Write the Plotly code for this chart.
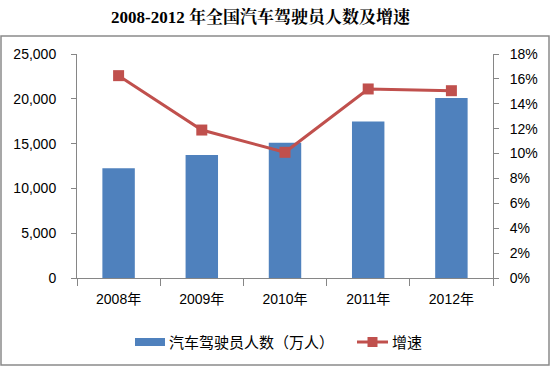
import plotly.graph_objects as go

years = ["2008年", "2009年", "2010年", "2011年", "2012年"]
drivers = [12240, 13730, 15100, 17480, 20090]
growth = [0.1626, 0.1189, 0.1010, 0.1519, 0.1505]

left_ticks = [0, 5000, 10000, 15000, 20000, 25000]
right_ticks = [0, 0.02, 0.04, 0.06, 0.08, 0.10, 0.12, 0.14, 0.16, 0.18]

bar_name = "汽车驾驶员人数（万人）"
line_name = "增速"
title = "2008-2012 年全国汽车驾驶员人数及增速"

FONT = "Liberation Sans, Noto Sans CJK SC, sans-serif"
AXC = "#868686"
BLUE = "#4F81BD"
RED = "#C0504D"

fig = go.Figure()
fig.add_trace(go.Bar(
    x=years, y=drivers, name=bar_name,
    marker=dict(color=BLUE, line=dict(width=0)),
    width=0.39, showlegend=False,
))
fig.add_trace(go.Scatter(
    x=years, y=growth, name=line_name, yaxis="y2",
    mode="lines+markers",
    line=dict(color=RED, width=3),
    marker=dict(symbol="square", size=11, color=RED),
    showlegend=False,
))

# plot area pixels: x 77..493, y 54..278
L, R, T, B = 77, 493, 54, 278
W, H = 551, 368
pw, ph = R - L, B - T
def px(x):
    return (x - L) / pw
def py(y):
    return (B - y) / ph

LEGY = 342
shapes = [
    dict(type="rect", xref="paper", yref="paper",
         x0=px(1), x1=px(549), y0=py(365), y1=py(36),
         line=dict(color="#8A8A8A", width=1.5), fillcolor="rgba(0,0,0,0)",
         layer="below"),
    # legend: bar swatch
    dict(type="rect", xref="paper", yref="paper",
         x0=px(135), x1=px(165), y0=py(LEGY + 4), y1=py(LEGY - 4),
         line=dict(width=0), fillcolor=BLUE),
    # legend: line swatch
    dict(type="line", xref="paper", yref="paper",
         x0=px(357), x1=px(388), y0=py(LEGY), y1=py(LEGY),
         line=dict(color=RED, width=3)),
    dict(type="rect", xref="paper", yref="paper",
         x0=px(367.5), x1=px(377.5), y0=py(LEGY + 5), y1=py(LEGY - 5),
         line=dict(width=0), fillcolor=RED),
]

annotations = [
    dict(text="<b>" + title + "</b>",
         xref="paper", yref="paper", x=px(261), y=py(17),
         xanchor="center", yanchor="middle", showarrow=False,
         font=dict(family="Liberation Serif, Noto Serif CJK SC, Noto Sans CJK SC, serif",
                   size=17, color="black")),
    dict(text=bar_name, xref="paper", yref="paper", x=px(167), y=py(LEGY),
         xanchor="left", yanchor="middle", showarrow=False,
         font=dict(family=FONT, size=15, color="black")),
    dict(text=line_name, xref="paper", yref="paper", x=px(390), y=py(LEGY),
         xanchor="left", yanchor="middle", showarrow=False,
         font=dict(family=FONT, size=15, color="black")),
]

fig.update_layout(
    width=W, height=H,
    margin=dict(l=L, r=W - R, t=T, b=H - B, pad=0),
    paper_bgcolor="white", plot_bgcolor="white",
    font=dict(family=FONT, size=14, color="black"),
    showlegend=False,
    xaxis=dict(
        type="category", range=[-0.5, 4.5], tickson="boundaries",
        showline=True, linecolor=AXC, linewidth=1,
        ticks="outside", ticklen=7, tickcolor=AXC,
        showgrid=False, zeroline=False,
        ticklabelstandoff=8,
        tickfont=dict(size=14),
    ),
    yaxis=dict(
        range=[0, 25000], tickvals=left_ticks, tickformat=",d",
        showline=True, linecolor=AXC, linewidth=1,
        ticks="outside", ticklen=5, tickcolor=AXC,
        showgrid=False, zeroline=False,
        ticklabelstandoff=12,
        tickfont=dict(size=14),
    ),
    yaxis2=dict(
        range=[0, 0.18], tickvals=right_ticks, tickformat=".0%",
        overlaying="y", side="right", anchor="x",
        showline=True, linecolor=AXC, linewidth=1,
        ticks="outside", ticklen=5, tickcolor=AXC,
        showgrid=False, zeroline=False,
        ticklabelstandoff=8,
        tickfont=dict(size=14),
    ),
    shapes=shapes,
    annotations=annotations,
)

fig.write_html("out.html", config={"displayModeBar": False},
               post_script="document.body.style.margin='0';")
